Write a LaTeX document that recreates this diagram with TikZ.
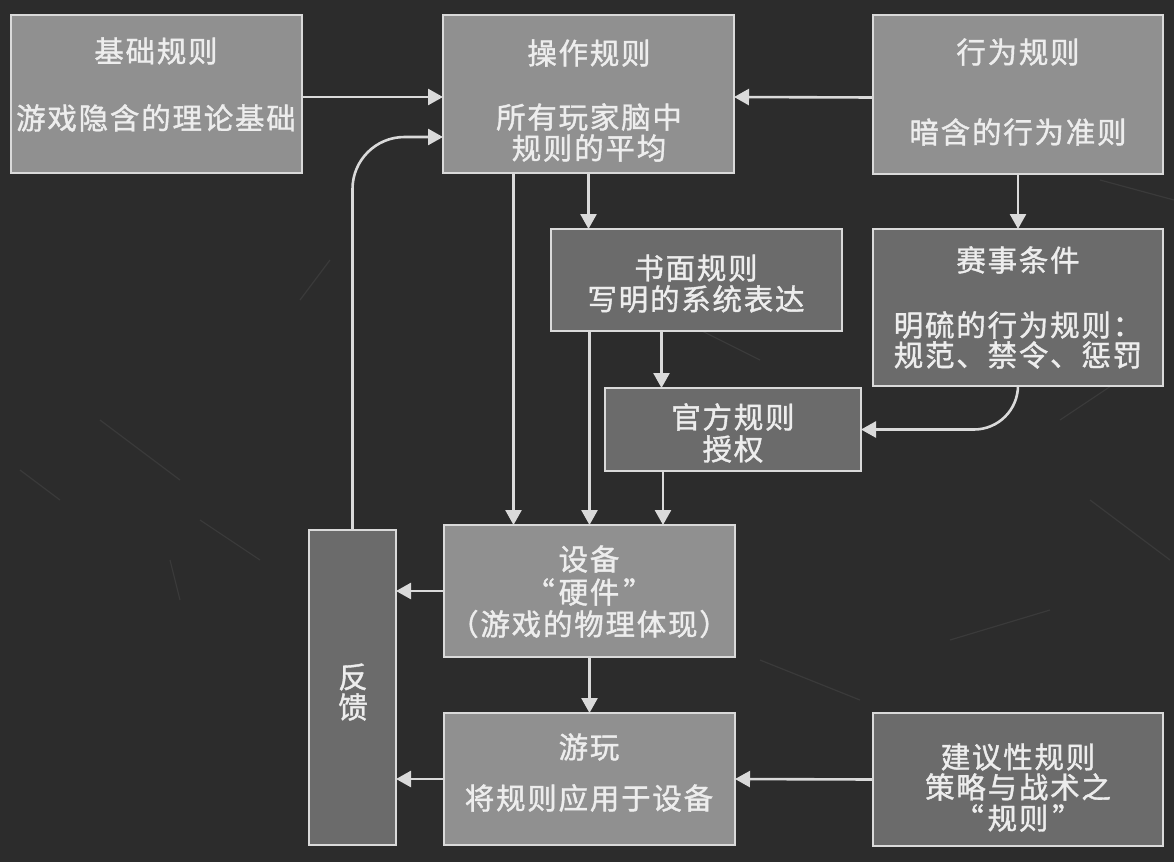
\documentclass[tikz,border=0pt]{standalone}
\usepackage{fontspec}
\setmainfont{Noto Sans CJK SC}[FakeBold=1.3, LetterSpace=6]
\usetikzlibrary{arrows.meta}

\definecolor{boardbg}{HTML}{2C2C2C}
\definecolor{boxlight}{HTML}{909090}
\definecolor{boxdark}{HTML}{6B6B6B}
\definecolor{rulecol}{HTML}{DADADA}
\definecolor{inkcol}{HTML}{EDEDED}
\definecolor{scratch}{HTML}{3A3A3A}

\tikzset{
  panel/.style={draw=rulecol, line width=2.6pt, rectangle, inner sep=0pt, outer sep=0pt},
  lightpanel/.style={panel, fill=boxlight},
  darkpanel/.style={panel, fill=boxdark},
  txt/.style={text=inkcol, inner sep=0pt, font=\fontsize{29.5}{31}\selectfont},
  arr/.style={draw=rulecol, line width=2.6pt,
    -{Triangle[length=15pt,width=16pt,fill=rulecol]}},
}

\begin{document}
\begin{tikzpicture}[x=1pt,y=-1pt]
% board
\fill[boardbg] (0,0) rectangle (1174,862);
\useasboundingbox (0,0) rectangle (1174,862);

% faint chalk scratches on the board
\begin{scope}[draw=scratch, line width=1.2pt]
  \draw (100,420) -- (180,480);
  \draw (200,520) -- (260,560);
  \draw (20,470) -- (60,500);
  \draw (170,560) -- (180,600);
  \draw (700,330) -- (760,360);
  \draw (1060,420) -- (1150,360);
  \draw (1090,500) -- (1170,560);
  \draw (760,660) -- (860,700);
  \draw (330,260) -- (300,300);
  \draw (950,640) -- (1050,610);
  \draw (1100,180) -- (1174,200);
\end{scope}

% boxes
\node[lightpanel, minimum width=291pt, minimum height=158pt] (A) at (156.5,94) {};
\node[lightpanel, minimum width=291pt, minimum height=158pt] (B) at (588.5,94) {};
\node[lightpanel, minimum width=290pt, minimum height=159pt] (C) at (1018,94.5) {};
\node[darkpanel, minimum width=291pt, minimum height=102pt] (D) at (696.5,280) {};
\node[darkpanel, minimum width=290pt, minimum height=157pt] (E) at (1018,307.5) {};
\node[darkpanel, minimum width=256pt, minimum height=83pt] (F) at (733,429.5) {};
\node[lightpanel, minimum width=291pt, minimum height=132pt] (G) at (589.5,591) {};
\node[darkpanel, minimum width=87pt, minimum height=315pt] (H) at (352.5,687.5) {};
\node[lightpanel, minimum width=291pt, minimum height=132pt] (I) at (589.5,779) {};
\node[darkpanel, minimum width=290pt, minimum height=133pt] (J) at (1018,779.5) {};

% labels
\node[txt] (A1) at (156,51) {基础规则};
\node[txt] (A2) at (156,118) {游戏隐含的理论基础};

\node[txt] (B1) at (589,53) {操作规则};
\node[txt] (B2) at (589,117) {所有玩家脑中};
\node[txt] (B3) at (589,148) {规则的平均};

\node[txt] (C1) at (1018,52) {行为规则};
\node[txt] (C2) at (1018,132) {暗含的行为准则};

\node[txt] (D1) at (696,268) {书面规则};
\node[txt] (D2) at (696,299) {写明的系统表达};

\node[txt] (E1) at (1018,260) {赛事条件};
\node[txt] (E2) at (1018,325) {明硫的行为规则：};
\node[txt] (E3) at (1018,355) {规范、禁令、惩罚};

\node[txt] (F1) at (733,417) {官方规则};
\node[txt] (F2) at (733,449) {授权};

\node[txt] (G1) at (589,559) {设备};
\node[txt] (G2) at (589,592) {“\hspace{4pt}硬件\hspace{4pt}”};
\node[txt] (G3) at (589,624) {（游戏的物理体现）};

\node[txt] (H1) at (353,677) {反};
\node[txt] (H2) at (353,707) {馈};

\node[txt] (I1) at (589,747) {游玩};
\node[txt] (I2) at (589,798) {将规则应用于设备};

\node[txt] (J1) at (1018,757) {建议性规则};
\node[txt] (J2) at (1018,787) {策略与战术之};
\node[txt] (J3) at (1018,818) {“\hspace{4pt}规则\hspace{4pt}”};

% connectors
\draw[arr] ([yshift=-3pt]A.east) -- ([yshift=-3pt]B.west);
\draw[arr] ([yshift=-3pt]C.west) -- ([yshift=-3pt]B.east);
\draw[arr, rounded corners=52pt] (H.north) |- ([yshift=-43pt]B.west);
\draw[arr] (B.south) -- (B.south |- D.north);
\draw[arr] ([xshift=-75pt]B.south) -- ([xshift=-75pt]B.south |- G.north);
\draw[arr] (D.south -| G.north) -- (G.north);
\draw[arr] ([xshift=-35pt]D.south) -- ([xshift=-35pt]D.south |- F.north);
\draw[arr] ([xshift=-70pt]F.south) -- ([xshift=-70pt]F.south |- G.north);
\draw[arr] (C.south) -- (E.north);
\draw[arr, rounded corners=44pt] (E.south) |- (F.east);
\draw[arr] (G.west) -- (G.west -| H.east);
\draw[arr] (G.south) -- (I.north);
\draw[arr] (I.west) -- (I.west -| H.east);
\draw[arr] (J.west) -- (I.east);
\end{tikzpicture}
\end{document}
